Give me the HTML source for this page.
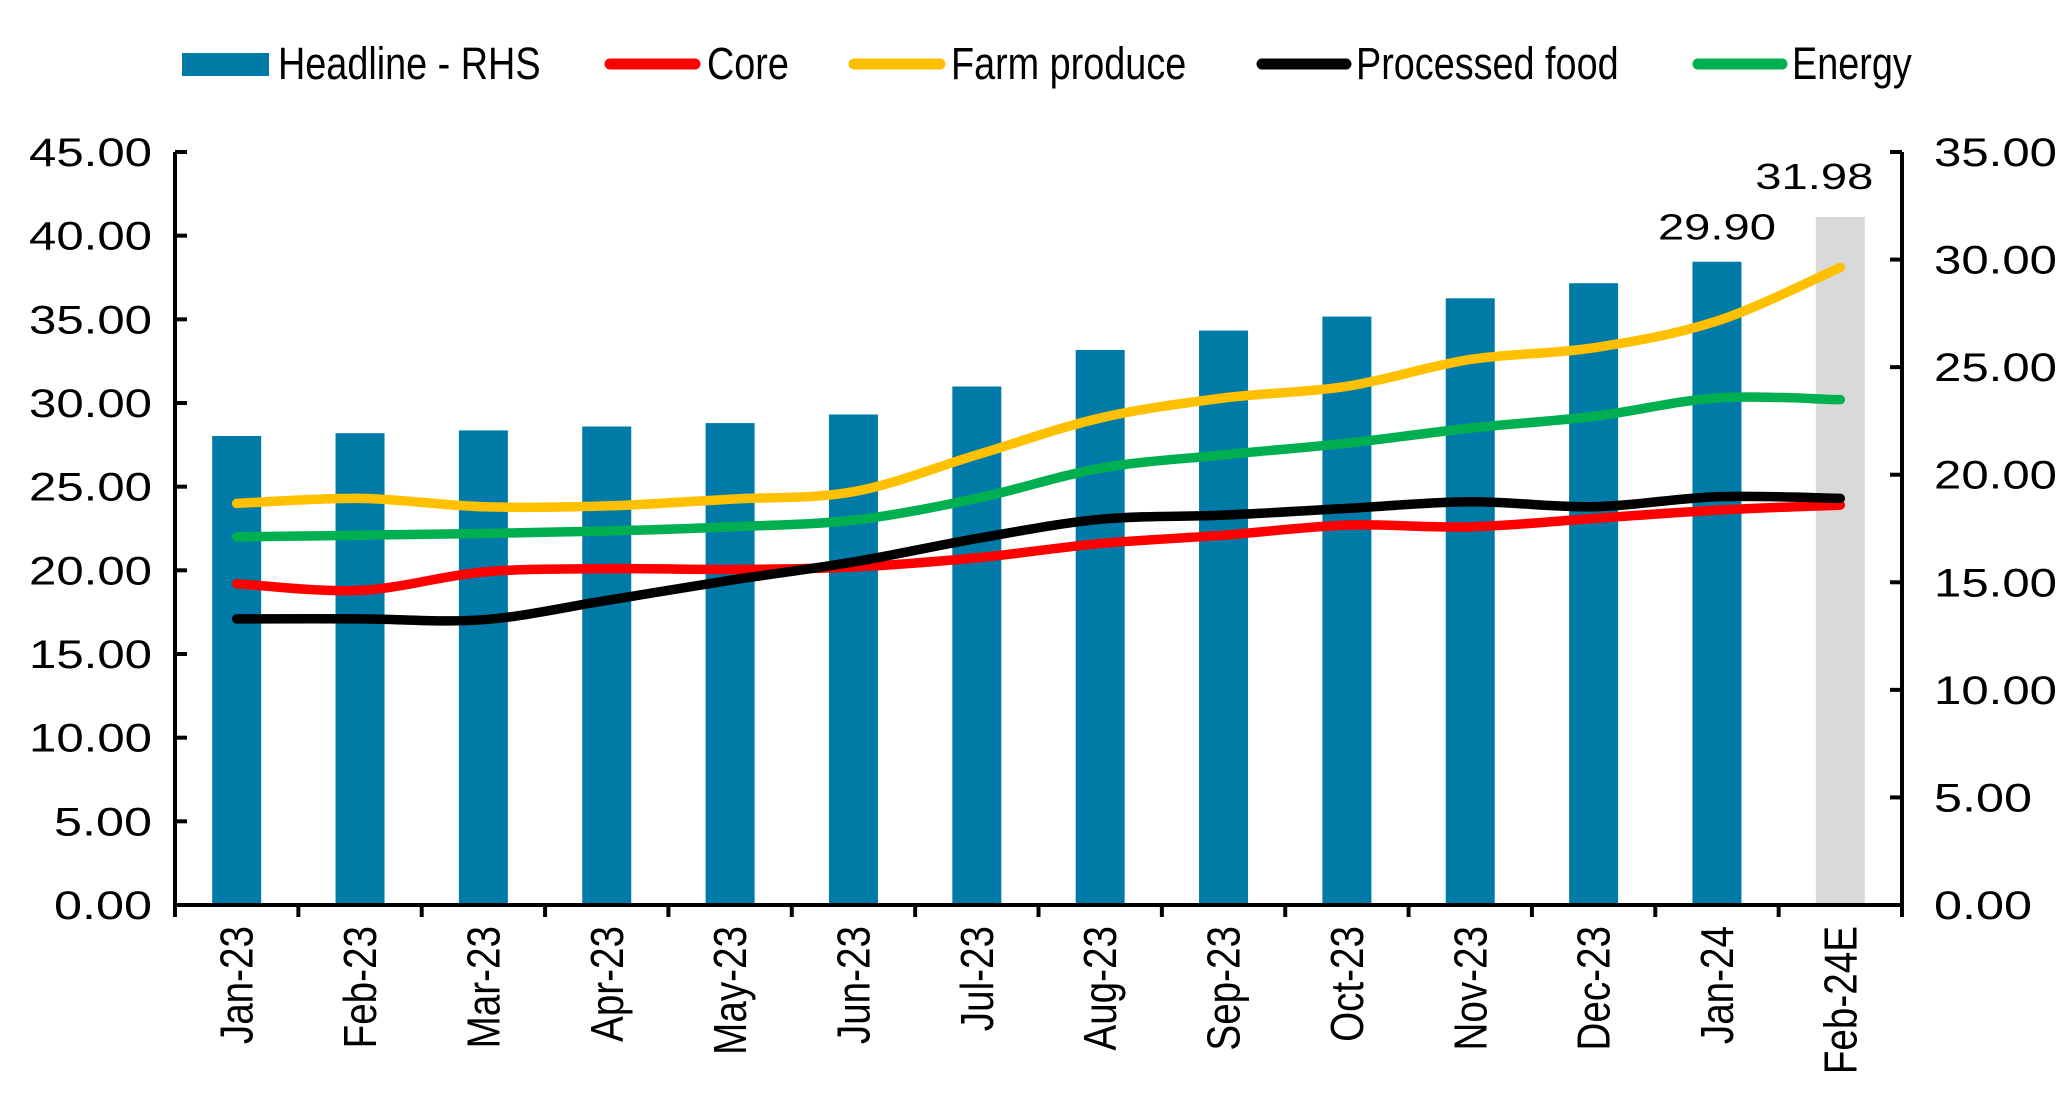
<!DOCTYPE html>
<html><head><meta charset="utf-8"><style>
html,body{margin:0;padding:0;background:#fff;}
svg{display:block;font-family:"Liberation Sans",sans-serif;}
</style></head><body>
<svg id="chart" width="2068" height="1106" viewBox="0 0 2068 1106" xmlns="http://www.w3.org/2000/svg">
<g id="legend">
  <g><rect x="182" y="53" width="87" height="23" fill="#007ba7"/><text transform="translate(278,79) scale(0.84,1)" font-size="45">Headline - RHS</text></g>
  <g><line x1="610" y1="64" x2="695" y2="64" stroke="#ff0000" stroke-width="11" stroke-linecap="round"/><text transform="translate(707,79) scale(0.84,1)" font-size="45">Core</text></g>
  <g><line x1="854" y1="64" x2="940" y2="64" stroke="#ffc000" stroke-width="11" stroke-linecap="round"/><text transform="translate(951,79) scale(0.84,1)" font-size="45">Farm produce</text></g>
  <g><line x1="1262" y1="64" x2="1346" y2="64" stroke="#000" stroke-width="11" stroke-linecap="round"/><text transform="translate(1356,79) scale(0.84,1)" font-size="45">Processed food</text></g>
  <g><line x1="1698" y1="64" x2="1782" y2="64" stroke="#00b050" stroke-width="11" stroke-linecap="round"/><text transform="translate(1792,79) scale(0.84,1)" font-size="45">Energy</text></g>
</g>
<g id="plot"></g>
</svg>
<script>
const categories = ["Jan-23","Feb-23","Mar-23","Apr-23","May-23","Jun-23","Jul-23","Aug-23","Sep-23","Oct-23","Nov-23","Dec-23","Jan-24","Feb-24E"];
const headline = [21.8,21.93,22.06,22.24,22.4,22.8,24.1,25.8,26.7,27.35,28.2,28.9,29.90,31.98];
const core = [19.2,18.8,19.9,20.1,20.05,20.2,20.75,21.6,22.1,22.7,22.6,23.1,23.6,23.9];
const farm = [24.0,24.3,23.8,23.85,24.25,24.7,26.9,29.1,30.3,31.0,32.6,33.3,34.9,38.1];
const processed = [17.1,17.1,17.05,18.2,19.4,20.5,21.9,23.05,23.3,23.7,24.1,23.8,24.4,24.3];
const energy = [22.0,22.1,22.2,22.35,22.6,23.0,24.3,26.1,26.9,27.6,28.5,29.2,30.3,30.2];
const leftTicks = ["0.00","5.00","10.00","15.00","20.00","25.00","30.00","35.00","40.00","45.00"];
const rightTicks = ["0.00","5.00","10.00","15.00","20.00","25.00","30.00","35.00"];
const labelledBars = [12,13];

const NS="http://www.w3.org/2000/svg";
const g=document.getElementById('plot');
const X0=175,X1=1902,Y0=905,Y1=152;
const band=(X1-X0)/categories.length;
const xc=i=>X0+band*(i+0.5);
const yL=v=>Y0-(v/45)*(Y0-Y1);
const yR=v=>Y0-(v/35)*(Y0-Y1);
function mk(t,a,p){const e=document.createElementNS(NS,t);for(const k in a)e.setAttribute(k,a[k]);(p||g).appendChild(e);return e;}

headline.forEach((v,i)=>{
  const r=mk('rect',{x:xc(i)-24.5,y:yR(v),width:49,height:Y0-yR(v),fill:i===categories.length-1?'#d9d9d9':'#007ba7'});
  
  
});
labelledBars.forEach(i=>{
  const t=mk('text',{x:xc(i)-(i===13?26:0),y:yR(headline[i])-(i===13?28:22),'font-size':36,'text-anchor':'middle',textLength:118,lengthAdjust:'spacingAndGlyphs'});
  t.textContent=headline[i].toFixed(2);
  
  
});

function path(vals){
  const p=vals.map((v,i)=>[xc(i),yL(v)]);
  let d='M'+p[0][0]+','+p[0][1];
  for(let i=0;i<p.length-1;i++){
    const a=p[i-1]||p[i],b=p[i],c=p[i+1],e=p[i+2]||c;
    const c1=[b[0]+(c[0]-a[0])/6,b[1]+(c[1]-a[1])/6],c2=[c[0]-(e[0]-b[0])/6,c[1]-(e[1]-b[1])/6];
    d+=` C${c1[0]},${c1[1]} ${c2[0]},${c2[1]} ${c[0]},${c[1]}`;
  }
  return d;
}
[[energy,'#00b050','energy-line'],[farm,'#ffc000','farm-produce-line'],[core,'#ff0000','core-line'],[processed,'#000000','processed-food-line']].forEach(s=>{
  const p=mk('path',{d:path(s[0]),fill:'none',stroke:s[1],'stroke-width':9.5,'stroke-linecap':'round'});
  
  
});

const ax=mk('g',{stroke:'#000','stroke-width':4});


mk('line',{x1:X0,y1:Y1,x2:X0,y2:Y0+12},ax);
mk('line',{x1:X1,y1:Y1,x2:X1,y2:Y0+12},ax);
mk('line',{x1:X0,y1:Y0,x2:X1,y2:Y0},ax);
leftTicks.forEach(t=>{
  const v=parseFloat(t);
  mk('line',{x1:X0,y1:yL(v),x2:X0+12,y2:yL(v)},ax);
  const tx=mk('text',{x:152,y:yL(v)+14,'font-size':40,'text-anchor':'end',textLength:t.length===5?123:98,lengthAdjust:'spacingAndGlyphs'});
  tx.textContent=t;
  
  
});
rightTicks.forEach(t=>{
  const v=parseFloat(t);
  mk('line',{x1:X1-12,y1:yR(v),x2:X1,y2:yR(v)},ax);
  const tx=mk('text',{x:1934,y:yR(v)+14,'font-size':40,textLength:t.length===5?123:98,lengthAdjust:'spacingAndGlyphs'});
  tx.textContent=t;
  
  
});
categories.forEach((c,i)=>{
  if(i>0) mk('line',{x1:X0+band*i,y1:Y0,x2:X0+band*i,y2:Y0+12},ax);
  const tx=mk('text',{x:0,y:0,'font-size':46,'text-anchor':'end',transform:`translate(${xc(i)+16},926) rotate(-90) scale(0.84,1)`});
  tx.textContent=c;
  
  
});
</script>
</body></html>
